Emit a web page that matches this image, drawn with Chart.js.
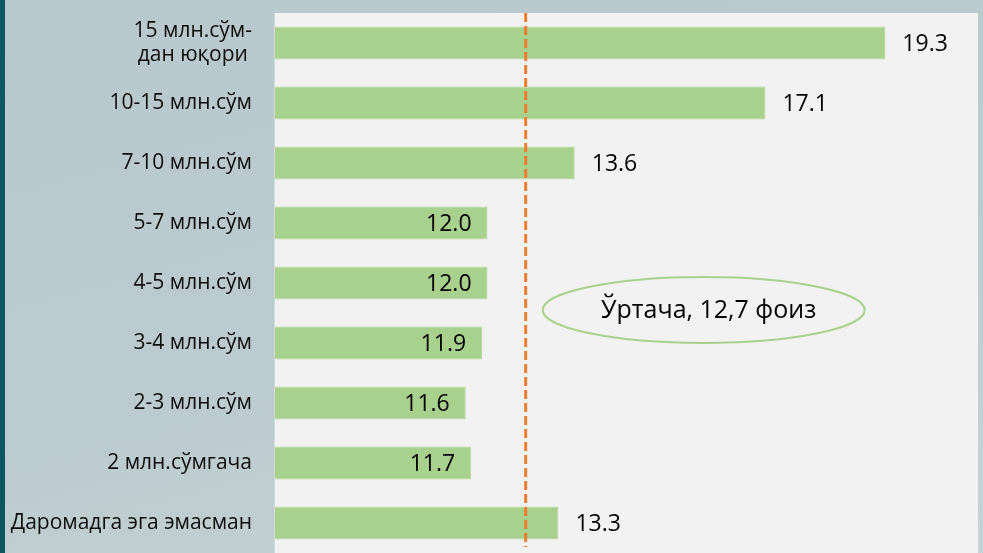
<!DOCTYPE html>
<html>
<head>
<meta charset="utf-8">
<script src="https://cdn.jsdelivr.net/npm/chart.js@4"></script>
<style>
  html, body { margin: 0; padding: 0; }
  body {
    width: 983px; height: 553px; overflow: hidden;
    background: linear-gradient(165deg, #b8c8cc 0%, #bccbcf 55%, #c6d3d5 100%);
    position: relative;
  }
  #stripe { position: absolute; left: 0; top: 0; width: 5px; height: 553px; background: #0c5861; }
  #wrap { position: absolute; left: 0; top: 0; width: 983px; height: 553px; }
</style>
</head>
<body>
<div id="stripe"></div>
<div id="wrap"><canvas id="c" width="983" height="553"></canvas></div>
<script>
const categories = [
  ['15 млн.сўм-', 'дан юқори'],
  '10-15 млн.сўм',
  '7-10 млн.сўм',
  '5-7 млн.сўм',
  '4-5 млн.сўм',
  '3-4 млн.сўм',
  '2-3 млн.сўм',
  '2 млн.сўмгача',
  'Даромадга эга эмасман'
];
const values = [19.3, 17.1, 13.6, 12.0, 12.0, 11.9, 11.6, 11.7, 13.3];
const valueLabels = ['19.3', '17.1', '13.6', '12.0', '12.0', '11.9', '11.6', '11.7', '13.3'];
const averageValue = 12.7;
const averageLabel = 'Ўртача, 12,7 фоиз';
const axisMin = 8.1;
const axisMax = 21;

const FONT = '"Open Sans", "Noto Sans", sans-serif';

const decorPlugin = {
  id: 'decor',
  beforeDatasetsDraw(chart) {
    const { ctx, chartArea: a } = chart;
    ctx.save();
    ctx.fillStyle = '#f2f2f2';
    ctx.fillRect(a.left, a.top, a.right - a.left, a.bottom - a.top);
    ctx.fillStyle = '#d3dadc';
    ctx.fillRect(a.left - 1, a.top, 1, a.bottom - a.top);
    ctx.restore();
  },
  afterDatasetsDraw(chart) {
    const { ctx, chartArea: a } = chart;
    const xs = chart.scales.x, ys = chart.scales.y;
    ctx.save();

    // average dashed line
    const ax = xs.getPixelForValue(averageValue);
    ctx.strokeStyle = '#ed7d31';
    ctx.lineWidth = 3;
    ctx.setLineDash([9, 4]);
    ctx.beginPath();
    ctx.moveTo(ax, a.top);
    ctx.lineTo(ax, a.bottom - 6);
    ctx.stroke();
    ctx.setLineDash([]);

    // value labels
    ctx.fillStyle = '#000';
    ctx.font = '23px ' + FONT;
    ctx.textBaseline = 'middle';
    values.forEach((v, i) => {
      const bx = xs.getPixelForValue(v);
      const by = ys.getPixelForValue(i) + 1;
      if (v < averageValue) {
        ctx.textAlign = 'right';
        ctx.fillText(valueLabels[i], bx - 16, by);
      } else {
        ctx.textAlign = 'left';
        ctx.fillText(valueLabels[i], bx + 17, by);
      }
    });

    // category labels
    ctx.font = '21px ' + FONT;
    ctx.fillStyle = '#0d0d0d';
    const rx = a.left - 23;
    categories.forEach((c, i) => {
      const cy = ys.getPixelForValue(i);
      if (Array.isArray(c)) {
        const widths = c.map(t => ctx.measureText(t).width);
        const maxW = Math.max(...widths);
        const center = rx - maxW / 2;
        ctx.textAlign = 'center';
        const lh = 24;
        c.forEach((t, j) => {
          ctx.fillText(t, center, cy + (j - (c.length - 1) / 2) * lh);
        });
      } else {
        ctx.textAlign = 'right';
        ctx.fillText(c, rx, cy);
      }
    });

    // ellipse annotation
    const ex = ax + 178, ey = ys.getPixelForValue(4) + 27;
    ctx.strokeStyle = '#a9d18e';
    ctx.lineWidth = 2;
    ctx.beginPath();
    ctx.ellipse(ex, ey, 161, 33, 0, 0, Math.PI * 2);
    ctx.stroke();
    ctx.fillStyle = '#000';
    ctx.font = '25px ' + FONT;
    ctx.textAlign = 'center';
    ctx.fillText(averageLabel, ex + 5, ey + 1);

    ctx.restore();
  }
};

new Chart(document.getElementById('c'), {
  type: 'bar',
  data: {
    labels: categories,
    datasets: [{
      data: values,
      backgroundColor: '#a9d18e',
      borderColor: '#b3d79b',
      borderWidth: 1,
      barPercentage: 0.55,
      categoryPercentage: 1
    }]
  },
  options: {
    indexAxis: 'y',
    responsive: false,
    animation: false,
    events: [],
    layout: { padding: { left: 275, top: 13, right: 5, bottom: 0 } },
    plugins: { legend: { display: false }, tooltip: { enabled: false } },
    scales: {
      x: { display: false, min: axisMin, max: axisMax },
      y: { display: false }
    }
  },
  plugins: [decorPlugin]
});
</script>
</body>
</html>
